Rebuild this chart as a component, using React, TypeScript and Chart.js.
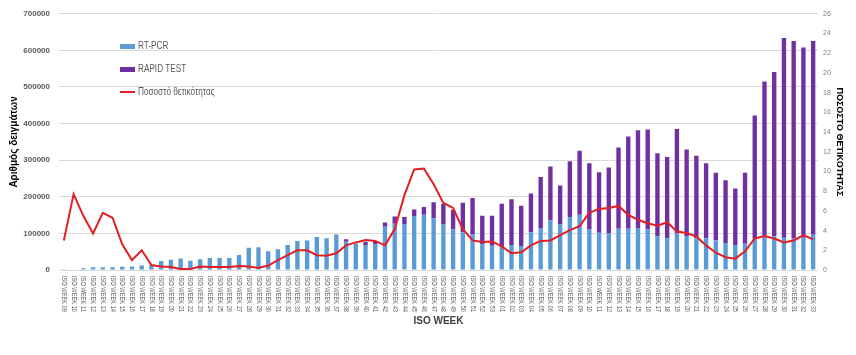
import React, { useEffect, useRef } from "react";
import { Chart, registerables } from "chart.js";

Chart.register(...registerables);

const weeks2020 = ["09","10","11","12","13","14","15","16","17","18","19","20","21","22","23","24","25","26","27","28","29","30","31","32","33","34","35","36","37","38","39","40","41","42","43","44","45","46","47","48","49","50","51","52","53"];
const weeks2021 = ["01","02","03","04","05","06","07","08","09","10","11","12","13","14","15","16","17","18","19","20","21","22","23","24","25","26","27","28","29","30","31","32","33"];
const categories = [...weeks2020, ...weeks2021].map((w) => "ISO WEEK " + w);

const rtPcr = [
  800, 1500, 4600, 7300, 7500, 7500, 9000, 9500, 12600, 13500,
  24500, 28000, 31500, 25500, 29700, 33000, 33000, 33000, 41000, 60500,
  62500, 51000, 56500, 68500, 79000, 80500, 90000, 87000, 97300, 77000,
  71500, 68000, 70000, 118500, 126500, 124500, 147500, 151000, 141500, 124500,
  110500, 103000, 97000, 70500, 66500,
  62000, 68000, 65500, 103000, 114500, 136000, 124500, 145000, 151000, 110500,
  101500, 99500, 112500, 112500, 114500, 111000, 92500, 87000, 100000, 93000,
  87000, 87000, 81000, 74000, 68000, 72000, 86000, 95000, 92000, 88000,
  86000, 88000, 96000,
];

const rapidTest = [
  0, 0, 0, 0, 0, 0, 0, 0, 0, 0,
  0, 0, 0, 0, 0, 0, 0, 0, 0, 0,
  0, 0, 0, 0, 0, 0, 0, 0, 0, 7000,
  1000, 9000, 9000, 11000, 20000, 20500, 18000, 21000, 43500, 56000,
  54000, 80500, 100000, 77500, 81500,
  119000, 125000, 110000, 106000, 139500, 147000, 106500, 152000, 174500, 181500,
  165500, 180500, 222500, 252000, 267500, 273000, 226500, 222000, 285000, 236500,
  225000, 205000, 184500, 171000, 155000, 193500, 336000, 420000, 449000, 546000,
  540000, 520000, 530000,
];

const positivity = [
  3.0, 7.7, 5.5, 3.7, 5.8, 5.3, 2.6, 1.0, 2.0, 0.5,
  0.35, 0.3, 0.1, 0.1, 0.35, 0.3, 0.3, 0.3, 0.4, 0.35,
  0.2, 0.45, 1.0, 1.5, 2.0, 2.0, 1.5, 1.45, 1.7, 2.5,
  2.8, 3.05, 2.95, 2.5, 4.15, 7.6, 10.2, 10.3, 8.7, 6.8,
  6.3, 4.15, 3.0, 2.85, 2.9,
  2.4, 1.7, 1.8, 2.5, 2.95, 3.0, 3.55, 4.05, 4.45, 5.8,
  6.2, 6.3, 6.5, 5.6, 5.1, 4.75, 4.5, 4.85, 3.9, 3.75,
  3.4, 2.5, 1.75, 1.3, 1.15, 1.9, 3.2, 3.45, 3.2, 2.8,
  3.0, 3.55, 3.1,
];

const FONT = "'Liberation Sans', Arial, sans-serif";
const BLUE = "#5B9BD5";
const PURPLE = "#7030A0";
const RED = "#E31E24";
const GRAY = "#595959";

const xLabelPlugin = {
  id: "xLabels",
  afterDraw(chart: any) {
    const x = chart.scales.x;
    const ctx = chart.ctx;
    ctx.save();
    ctx.font = `7px ${FONT}`;
    ctx.fillStyle = GRAY;
    ctx.textAlign = "left";
    ctx.textBaseline = "middle";
    categories.forEach((lab, i) => {
      const px = x.getPixelForValue(i);
      ctx.save();
      ctx.translate(px, x.top + 6);
      ctx.rotate(Math.PI / 2);
      ctx.fillText(lab, 0, 0, 36);
      ctx.restore();
    });
    ctx.restore();
  },
};

export default function App() {
  const ref = useRef<HTMLCanvasElement | null>(null);

  useEffect(() => {
    if (!ref.current) return;
    const chart = new Chart(ref.current, {
      type: "bar",
      data: {
        labels: categories,
        datasets: [
          {
            type: "line",
            label: "Ποσοστό θετικότητας",
            data: positivity,
            yAxisID: "y1",
            borderColor: RED,
            backgroundColor: RED,
            borderWidth: 2,
            pointRadius: 0,
            tension: 0,
            order: 0,
          } as any,
          {
            type: "bar",
            label: "RT-PCR",
            data: rtPcr,
            yAxisID: "y",
            backgroundColor: BLUE,
            categoryPercentage: 1,
            barPercentage: 0.45,
            stack: "s",
            order: 1,
          },
          {
            type: "bar",
            label: "RAPID TEST",
            data: rapidTest,
            yAxisID: "y",
            backgroundColor: PURPLE,
            categoryPercentage: 1,
            barPercentage: 0.45,
            stack: "s",
            order: 2,
          },
        ],
      },
      options: {
        animation: false,
        responsive: false,
        maintainAspectRatio: false,
        layout: { padding: { top: 11, left: 0, right: 0, bottom: 0 } },
        plugins: {
          legend: { display: false },
          tooltip: { enabled: false },
        },
        scales: {
          x: {
            stacked: true,
            grid: { display: false },
            border: { display: false },
            ticks: { display: false, autoSkip: false },
            title: {
              display: true,
              text: "ISO WEEK",
              color: "#404040",
              font: { family: FONT, size: 10, weight: "bold" },
              padding: { top: 0, bottom: 28 },
            },
            afterFit: (s: any) => {
              s.height = 85;
            },
          },
          y: {
            stacked: true,
            position: "left",
            min: 0,
            max: 700000,
            ticks: {
              stepSize: 100000,
              color: GRAY,
              padding: 9,
              font: { family: FONT, size: 8, weight: "bold" },
              callback: (v: any) => String(v),
            },
            grid: { color: "#d9d9d9", lineWidth: 1, drawTicks: false },
            border: { display: false },
            title: {
              display: true,
              text: "Αριθμός δειγμάτων",
              color: "#000000",
              font: { family: FONT, size: 10, weight: "bold" },
              padding: { top: 8, bottom: 0 },
            },
            afterFit: (s: any) => {
              s.width = 59;
            },
          },
          y1: {
            position: "right",
            min: 0,
            max: 26,
            ticks: {
              stepSize: 2,
              color: "#7f7f7f",
              padding: 5,
              font: { family: FONT, size: 7 },
              callback: (v: any) => String(v),
            },
            grid: { display: false, drawTicks: false },
            border: { display: false },
            title: {
              display: true,
              text: "ΠΟΣΟΣΤΟ ΘΕΤΙΚΟΤΗΤΑΣ",
              color: "#000000",
              font: { family: FONT, size: 9, weight: "bold" },
              padding: { top: 11, bottom: 0 },
            },
            afterFit: (s: any) => {
              s.width = 38;
            },
          },
        },
      },
      plugins: [xLabelPlugin],
    });
    return () => chart.destroy();
  }, []);

  const legendText: React.CSSProperties = {
    position: "absolute",
    left: 138,
    fontFamily: FONT,
    fontSize: 10,
    color: GRAY,
    lineHeight: "12px",
    whiteSpace: "nowrap",
    transform: "scaleX(0.82)",
    transformOrigin: "0 50%",
  };

  return (
    <div style={{ position: "absolute", left: 0, top: 0, width: 856, height: 355, background: "#ffffff" }}>
      <canvas ref={ref} width={856} height={355} style={{ display: "block", width: 856, height: 355 }} />
      <div style={{ position: "absolute", left: 120, top: 44, width: 15, height: 5, background: BLUE }} />
      <div style={{ ...legendText, top: 40 }}>RT-PCR</div>
      <div style={{ position: "absolute", left: 120, top: 67, width: 15, height: 5, background: PURPLE }} />
      <div style={{ ...legendText, top: 63 }}>RAPID TEST</div>
      <div style={{ position: "absolute", left: 120, top: 91, width: 15, height: 2, background: RED }} />
      <div style={{ ...legendText, top: 86 }}>Ποσοστό θετικότητας</div>
    </div>
  );
}
